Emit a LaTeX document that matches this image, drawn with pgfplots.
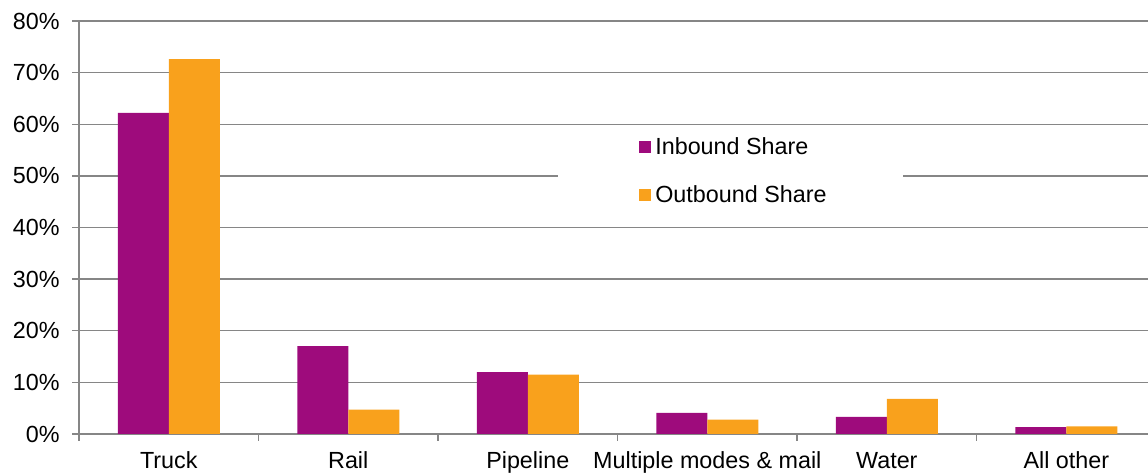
\documentclass[border=0pt]{standalone}
\usepackage{pgfplots}
\pgfplotsset{compat=1.18}
\usepackage{fontspec}
\setmainfont{Liberation Sans}
\usetikzlibrary{calc}
\definecolor{inb}{RGB}{158,11,124}
\definecolor{outb}{RGB}{249,161,28}
\definecolor{gridg}{RGB}{134,134,134}
\begin{document}
\begin{tikzpicture}
\begin{axis}[name=ax, scale only axis, width=801.75pt, height=309.75pt,
  xmin=-0.5, xmax=5.455, ymin=0, ymax=80,
  ybar=0pt, bar width=38.25pt,
  axis x line*=bottom, axis y line*=left,
  axis line style={gridg, line width=1pt, -},
  xtick={0,...,5},
  xticklabels={Truck,Rail,Pipeline,Multiple modes \& mail,Water,All other},
  major x tick style={draw=none},
  minor xtick={-0.5,0.5,...,5.5},
  ytick={0,10,...,80},
  yticklabels={0\%,10\%,20\%,30\%,40\%,50\%,60\%,70\%,80\%},
  ymajorgrids, grid style={gridg, line width=1pt},
  tick style={gridg, line width=1pt},
  major tick length=5pt, minor tick length=5pt,
  tick align=outside,
  font=\fontsize{17.5}{21}\selectfont,
  yticklabel style={xshift=-6pt},
  xticklabel style={yshift=-5pt},
  legend cell align=left,
  legend image code/.code={\fill[#1] (0pt,-4.5pt) rectangle (9pt,4.5pt);},
  legend style={at={(rel axis cs:0.5239,0.724)}, anchor=north west, draw=none, fill=none,
    row sep=17.5pt, inner sep=0pt, nodes={inner xsep=3pt}},
]
\addplot[fill=inb, draw=none] coordinates {(0,62.2) (1,17.0) (2,12.0) (3,4.1) (4,3.3) (5,1.35)};
\addplot[fill=outb, draw=none] coordinates {(0,72.6) (1,4.7) (2,11.5) (3,2.8) (4,6.8) (5,1.5)};
\fill[white] (rel axis cs:0.448,0.745) rectangle (rel axis cs:0.771,0.53);
\legend{Inbound Share, Outbound Share}
\end{axis}
\pgfresetboundingbox
\path[use as bounding box] ($(ax.south west)+(-59.25pt,-31.5pt)$) rectangle ($(ax.north east)+(0pt,15.75pt)$);
\end{tikzpicture}
\end{document}
